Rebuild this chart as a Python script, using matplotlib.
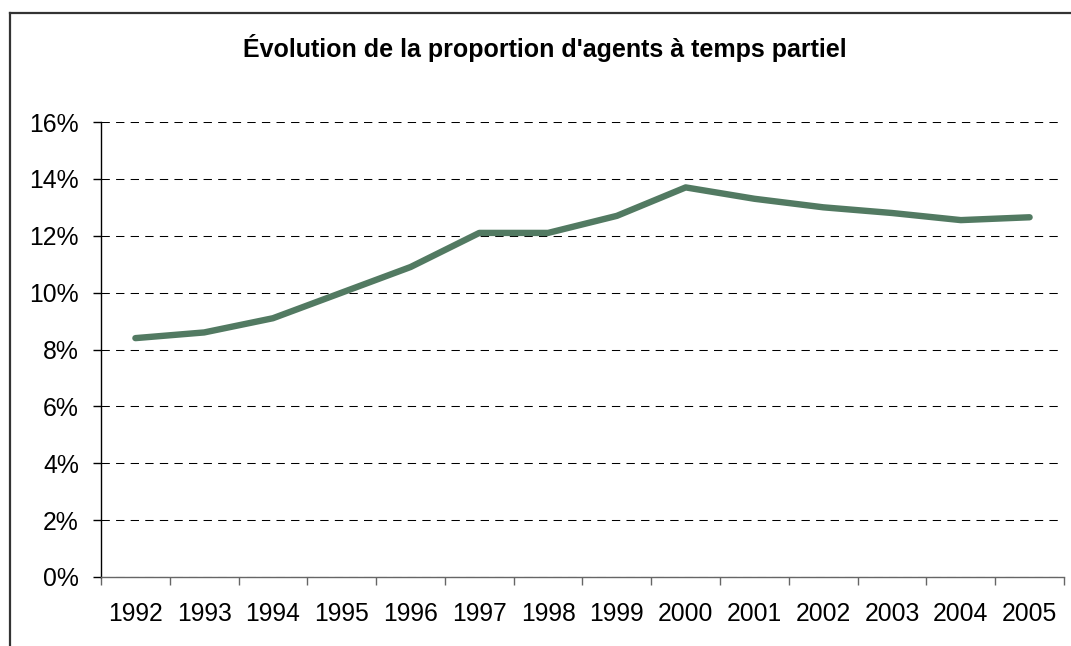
import numpy as np
import matplotlib
matplotlib.use("Agg")
import matplotlib.pyplot as plt
from matplotlib.lines import Line2D
from matplotlib.ticker import FixedLocator, FuncFormatter

# Data
years = ['1992', '1993', '1994', '1995', '1996', '1997', '1998',
         '1999', '2000', '2001', '2002', '2003', '2004', '2005']
part_time = [8.4, 8.6, 9.1, 10.0, 10.9, 12.1, 12.1,
             12.7, 13.7, 13.3, 13.0, 12.8, 12.55, 12.65]
y_ticks = [0, 2, 4, 6, 8, 10, 12, 14, 16]

plt.rcParams['font.family'] = ['Liberation Sans', 'DejaVu Sans']

fig = plt.figure(figsize=(10.71, 6.46), dpi=100)
ax = fig.add_axes([101 / 1071, 1 - 577 / 646, 963 / 1071, 455 / 646])

x = np.arange(len(years))
ax.plot(x, part_time, color='#527a62', linewidth=4.6,
        solid_capstyle='round', solid_joinstyle='round', zorder=3)

ax.set_xlim(-0.5, len(years) - 0.5)
ax.set_ylim(0, 16)

# y axis
ax.yaxis.set_major_locator(FixedLocator(y_ticks))
ax.yaxis.set_major_formatter(FuncFormatter(lambda v, p: f'{v:.0f}%'))
ax.grid(axis='y', color='black', linestyle=(0, (8, 6)), linewidth=0.75)
ax.tick_params(axis='y', length=6, width=1, pad=10, labelsize=17.8,
               direction='out', color='black')

# x axis: labels centred, ticks between categories
ax.set_xticks(x)
ax.set_xticklabels(years)
ax.set_xticks(np.arange(len(years) + 1) - 0.5, minor=True)
ax.tick_params(axis='x', which='major', length=0, pad=18, labelsize=17.8)
ax.tick_params(axis='x', which='minor', length=6, width=1, color='#666666')

for side in ['top', 'right']:
    ax.spines[side].set_visible(False)
ax.spines['left'].set_color('black')
ax.spines['bottom'].set_color('#666666')
ax.spines['left'].set_linewidth(1)
ax.spines['bottom'].set_linewidth(1)

fig.text(545 / 1071, 1 - 48 / 646, "Évolution de la proportion d'agents à temps partiel",
         ha='center', va='center', fontsize=18, fontweight='bold')

# chart border (only top and left visible in the crop)
fig.add_artist(Line2D([10 / 1071, 10 / 1071], [0, 1 - 13 / 646], color='#333333',
                      linewidth=1.6, transform=fig.transFigure))
fig.add_artist(Line2D([10 / 1071, 1], [1 - 13 / 646, 1 - 13 / 646], color='#333333',
                      linewidth=1.6, transform=fig.transFigure))

fig.savefig('out.png', dpi=100)
